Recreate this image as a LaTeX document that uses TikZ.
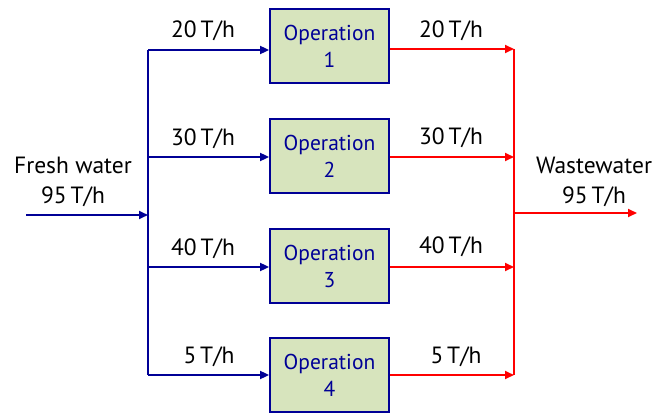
\documentclass[tikz,border=0pt]{standalone}
\usepackage{fontspec}
\setmainfont{PT Sans}
\usetikzlibrary{arrows.meta}
\definecolor{navy}{RGB}{0,0,150}
\definecolor{boxgreen}{RGB}{215,228,189}
\begin{document}
\begin{tikzpicture}[x=1pt,y=-1pt,
  opbox/.style={draw=navy,line width=1.8pt,fill=boxgreen,minimum width=119pt,minimum height=74pt,inner sep=0pt,align=center,text=navy,font=\fontsize{21.5}{27}\selectfont},
  bline/.style={draw=navy,line width=1.8pt},
  rline/.style={draw=red,line width=1.8pt},
  barrow/.style={bline,-{Triangle[length=9pt,width=8pt]}},
  rarrow/.style={rline,-{Triangle[length=9pt,width=8pt]}},
  lbl/.style={font=\fontsize{23.5}{30}\selectfont,inner sep=0pt,align=center}]
\useasboundingbox (0,0) rectangle (656,414);
% boxes
\node[opbox] (op1) at (329.5,46) {Operation\\1};
\node[opbox] (op2) at (329.5,156) {Operation\\2};
\node[opbox] (op3) at (329.5,266) {Operation\\3};
\node[opbox] (op4) at (329.5,375) {Operation\\4};
% split coordinates
\coordinate (s1) at (148,50);
\coordinate (s2) at (148,157);
\coordinate (s3) at (148,267);
\coordinate (s4) at (148,375);
\coordinate (sin) at (148,215);
\coordinate (fin) at (26,215);
\coordinate (m1) at (514,49);
\coordinate (m2) at (514,157);
\coordinate (m3) at (514,267);
\coordinate (m4) at (514,375);
\coordinate (mout) at (514,213);
\coordinate (wout) at (637,213);
% blue
\draw[barrow] (fin) -- (sin);
\draw[bline] (s1) -- (s4);
\draw[barrow] (s1) -- (s1 -| op1.west);
\draw[barrow] (s2) -- (s2 -| op2.west);
\draw[barrow] (s3) -- (s3 -| op3.west);
\draw[barrow] (s4) -- (s4 -| op4.west);
% red
\draw[rarrow] (m1 -| op1.east) -- (m1);
\draw[rarrow] (m2 -| op2.east) -- (m2);
\draw[rarrow] (m3 -| op3.east) -- (m3);
\draw[rarrow] (m4 -| op4.east) -- (m4);
\draw[rline] (m1) -- (m4);
\draw[rarrow] (mout) -- (wout);
% labels
\node[lbl] (lf) at (73,182) {Fresh water\\95\,T/h};
\node[lbl] (lw) at (594,182) {Wastewater\\95\,T/h};
\node[lbl] (b1) at (203,31) {20\,T/h};
\node[lbl] (b2) at (203,139) {30\,T/h};
\node[lbl] (b3) at (203,249) {40\,T/h};
\node[lbl] (b4) at (209,357) {5\,T/h};
\node[lbl] (r1) at (451,31) {20\,T/h};
\node[lbl] (r2) at (451,138) {30\,T/h};
\node[lbl] (r3) at (451,247) {40\,T/h};
\node[lbl] (r4) at (456,357) {5\,T/h};
\end{tikzpicture}
\end{document}
